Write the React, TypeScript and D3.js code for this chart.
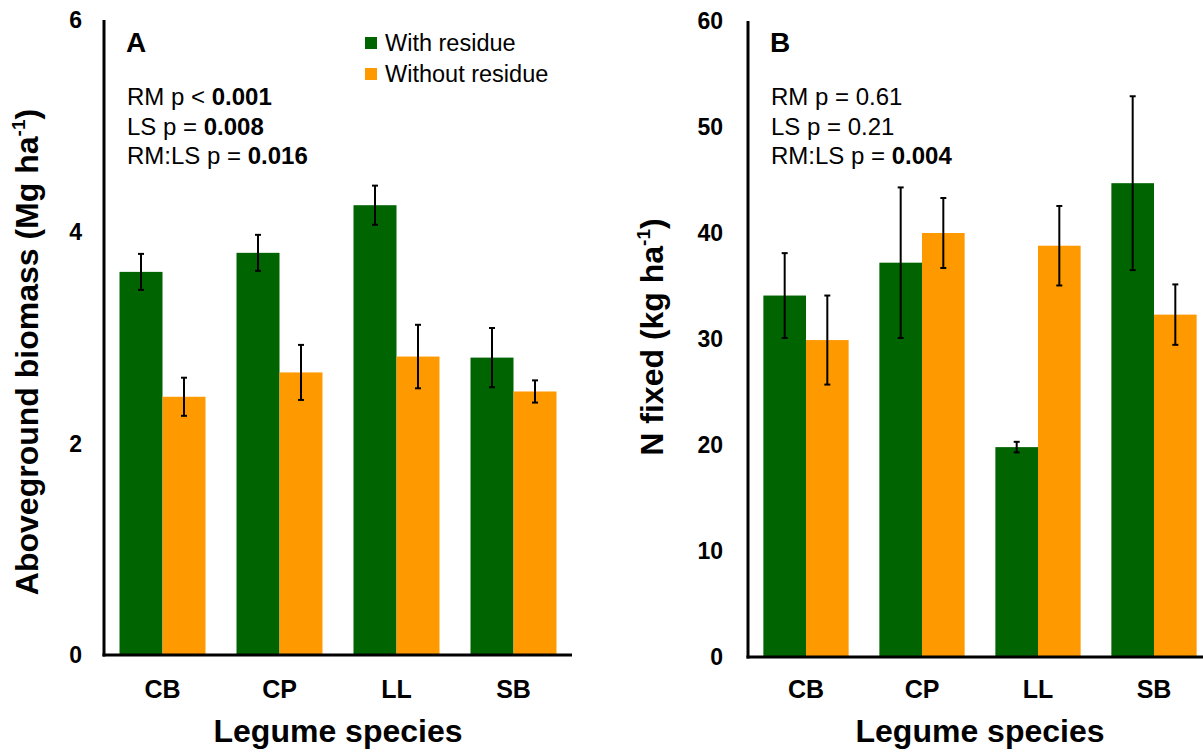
import React from 'react';
import * as d3 from 'd3';

const categories = ['CB', 'CP', 'LL', 'SB'];
const seriesNames = ['With residue', 'Without residue'];
const seriesColors = ['#006400', '#FF9900'];

// Panel A: aboveground biomass (Mg ha-1)
const biomassWith = [3.62, 3.8, 4.25, 2.81];
const biomassWithErr = [0.17, 0.17, 0.185, 0.28];
const biomassWithout = [2.44, 2.67, 2.82, 2.49];
const biomassWithoutErr = [0.18, 0.26, 0.3, 0.105];
const biomassTicks = [0, 2, 4, 6];

// Panel B: N fixed (kg ha-1)
const nfixWith = [34.1, 37.2, 19.8, 44.7];
const nfixWithErr = [4.0, 7.1, 0.5, 8.2];
const nfixWithout = [29.9, 40.0, 38.8, 32.3];
const nfixWithoutErr = [4.2, 3.3, 3.75, 2.85];
const nfixTicks = [0, 10, 20, 30, 40, 50, 60];

// stats lines: [plain part, bold part]
const statsA = [
  ['RM p < ', '0.001'],
  ['LS p = ', '0.008'],
  ['RM:LS p = ', '0.016'],
];
const statsB = [
  ['RM p = 0.61', ''],
  ['LS p = 0.21', ''],
  ['RM:LS p = ', '0.004'],
];

const FONT = '"Liberation Sans", Arial, sans-serif';

interface PanelProps {
  x0: number;
  x1: number;
  yTop: number;
  yBottom: number;
  yMax: number;
  ticks: number[];
  values: number[][];
  errors: number[][];
  letter: string;
  stats: string[][];
  yTitle: string;
  titleX: number;
  titleY: number;
  tickRight: number;
  showLegend?: boolean;
}

const Panel: React.FC<PanelProps> = ({
  x0, x1, yTop, yBottom, yMax, ticks, values, errors, letter, stats, yTitle, titleX, titleY, tickRight, showLegend,
}) => {
  const x = d3.scaleBand<string>()
    .domain(categories)
    .range([x0, x1])
    .paddingInner(0.265)
    .paddingOuter(0.1325);
  const xs = d3.scaleBand<string>()
    .domain(seriesNames)
    .range([0, x.bandwidth()]);
  const y = d3.scaleLinear().domain([0, yMax]).range([yBottom, yTop]);

  const firstX = x(categories[0]) || 0;
  const lastX = (x(categories[categories.length - 1]) || 0) + x.bandwidth();

  return (
    <g fontFamily={FONT}>
      {/* bars */}
      {seriesNames.map((s, si) =>
        categories.map((c, ci) => {
          const v = values[si][ci];
          return (
            <rect
              key={s + c}
              x={(x(c) || 0) + (xs(s) || 0)}
              y={y(v)}
              width={xs.bandwidth()}
              height={y(0) - y(v)}
              fill={seriesColors[si]}
            />
          );
        })
      )}
      {/* error bars */}
      {seriesNames.map((s, si) =>
        categories.map((c, ci) => {
          const v = values[si][ci];
          const e = errors[si][ci];
          const cx = (x(c) || 0) + (xs(s) || 0) + xs.bandwidth() / 2;
          return (
            <g key={'e' + s + c} stroke="#000" strokeWidth={2}>
              <line x1={cx} x2={cx} y1={y(v + e)} y2={y(v - e)} />
              <line x1={cx - 3} x2={cx + 3} y1={y(v + e)} y2={y(v + e)} />
              <line x1={cx - 3} x2={cx + 3} y1={y(v - e)} y2={y(v - e)} />
            </g>
          );
        })
      )}
      {/* axes */}
      <line x1={x0} x2={x0} y1={yTop} y2={yBottom + 1.5} stroke="#000" strokeWidth={3} />
      <line x1={x0 - 1.5} x2={x1} y1={yBottom} y2={yBottom} stroke="#000" strokeWidth={3} />
      {ticks.map(t => (
        <text
          key={'t' + t}
          x={tickRight}
          y={y(t)}
          dy="0.36em"
          textAnchor="end"
          fontSize={23}
          fontWeight="bold"
        >
          {t}
        </text>
      ))}
      {categories.map(c => (
        <text
          key={'c' + c}
          x={(x(c) || 0) + x.bandwidth() / 2}
          y={698}
          textAnchor="middle"
          fontSize={25}
          fontWeight="bold"
        >
          {c}
        </text>
      ))}
      <text
        x={(firstX + lastX) / 2}
        y={742}
        textAnchor="middle"
        fontSize={32}
        fontWeight="bold"
      >
        Legume species
      </text>
      <text
        transform={`translate(${titleX}, ${titleY}) rotate(-90)`}
        textAnchor="middle"
        fontSize={32}
        fontWeight="bold"
      >
        {yTitle}
        <tspan fontSize={19} dy={-13}>-1</tspan>
        <tspan dy={13}>)</tspan>
      </text>
      {/* panel letter */}
      <text x={x0 + 22} y={52} fontSize={28} fontWeight="bold">{letter}</text>
      {/* stats */}
      {stats.map((s, i) => (
        <text key={'s' + i} x={x0 + 23} y={105 + i * 29.5} fontSize={24}>
          {s[0]}
          {s[1] && <tspan fontWeight="bold">{s[1]}</tspan>}
        </text>
      ))}
      {showLegend && seriesNames.map((s, i) => (
        <g key={'l' + s} transform={`translate(365, ${37 + i * 31})`}>
          <rect width={12} height={12} fill={seriesColors[i]} />
          <text x={20} y={14} fontSize={23.5}>{s}</text>
        </g>
      ))}
    </g>
  );
};

export default function App() {
  return (
    <div style={{ position: 'absolute', left: 0, top: 0 }}>
      <svg width={1203} height={753} style={{ display: 'block', background: '#fff' }}>
        <Panel
          x0={104}
          x1={572}
          yTop={20}
          yBottom={655}
          yMax={6}
          ticks={biomassTicks}
          values={[biomassWith, biomassWithout]}
          errors={[biomassWithErr, biomassWithoutErr]}
          letter="A"
          stats={statsA}
          yTitle="Aboveground biomass (Mg ha"
          titleX={38}
          titleY={352}
          tickRight={82}
          showLegend
        />
        <Panel
          x0={748}
          x1={1212}
          yTop={21}
          yBottom={657}
          yMax={60}
          ticks={nfixTicks}
          values={[nfixWith, nfixWithout]}
          errors={[nfixWithErr, nfixWithoutErr]}
          letter="B"
          stats={statsB}
          yTitle="N fixed (kg ha"
          titleX={663}
          titleY={337}
          tickRight={723}
        />
      </svg>
    </div>
  );
}
